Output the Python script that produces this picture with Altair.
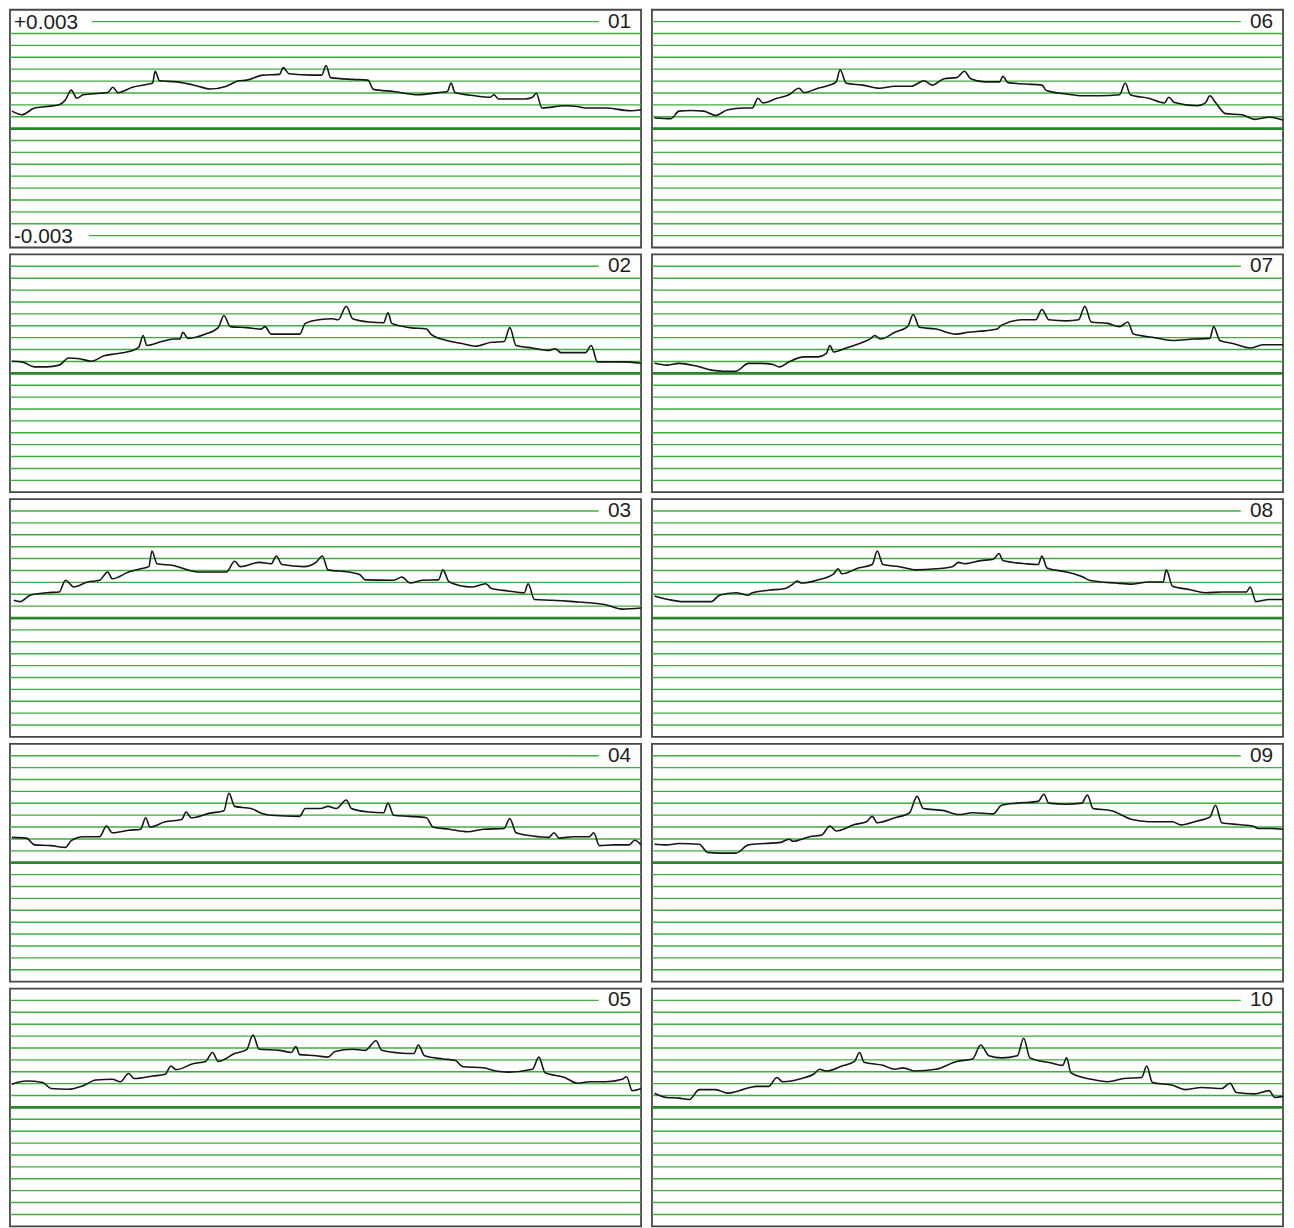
import altair as alt
import pandas as pd

# ---------------- data (in units of 1e-3) ----------------
PANEL_IDS = ["01", "02", "03", "04", "05", "06", "07", "08", "09", "10"]

X_01 = [0.3,1.9,3.9,5.8,7.8,8.8,9.7,10.6,11.6,14.2,15.5,16.3,17.1,19.4,22.0,22.6,23.0,23.7,26.5,29.8,31.7,34.3,36.2,37.5,40.1,42.7,43.3,44.2,47.9,49.4,50.1,50.8,54.3,56.7,57.6,60.8,64.7,67.9,69.3,69.9,70.5,73.7,76.1,76.7,77.4,81.5,82.8,83.4,84.3,88.0,89.9,91.2,94.4,98.3,100]
V_01 = [0.49,0.39,0.58,0.62,0.67,0.81,1.08,0.85,0.95,0.99,1.01,1.16,1.01,1.16,1.25,1.28,1.61,1.34,1.31,1.19,1.11,1.19,1.34,1.36,1.50,1.52,1.71,1.54,1.50,1.50,1.77,1.43,1.38,1.36,1.10,1.04,0.95,1.01,1.04,1.28,1.01,0.92,0.88,0.95,0.83,0.83,0.88,0.99,0.58,0.64,0.62,0.58,0.58,0.50,0.53]

X_02 = [0.3,1.9,3.9,5.8,7.8,9.3,11.0,12.9,14.9,16.8,19.4,20.4,21.1,21.7,24.0,25.9,26.9,27.4,28.2,31.0,33.0,33.9,34.9,37.5,39.8,40.4,41.4,45.9,46.8,49.2,51.1,52.0,53.3,54.3,56.9,59.2,59.9,60.5,63.4,66.0,66.7,69.2,71.8,73.7,76.3,78.3,79.2,80.2,82.8,85.4,86.4,87.3,91.2,92.1,93.1,97.0,100]
V_02 = [0.34,0.32,0.18,0.18,0.23,0.43,0.41,0.34,0.49,0.55,0.64,0.73,1.06,0.78,0.89,0.96,0.96,1.15,0.98,1.10,1.28,1.62,1.31,1.28,1.24,1.31,1.10,1.10,1.40,1.51,1.53,1.50,1.88,1.53,1.44,1.42,1.70,1.40,1.28,1.24,1.10,0.92,0.83,0.76,0.87,0.89,1.28,0.78,0.71,0.64,0.69,0.58,0.58,0.78,0.32,0.32,0.28]

X_03 = [0.6,1.6,3.2,5.8,7.8,8.8,10.1,12.3,14.2,15.5,16.2,18.8,20.7,22.0,22.5,23.3,25.9,28.5,29.8,34.3,35.6,36.5,39.5,41.4,42.2,43.1,46.6,48.5,49.5,50.4,53.7,55.4,56.3,60.8,62.1,63.4,65.3,67.9,68.6,69.6,73.1,75.4,76.3,78.9,81.5,82.1,83.1,86.0,89.3,91.8,94.4,97.0,100]
V_03 = [0.50,0.46,0.64,0.71,0.73,1.06,0.87,1.01,1.06,1.29,1.10,1.29,1.38,1.44,1.88,1.52,1.47,1.33,1.29,1.29,1.59,1.44,1.56,1.52,1.74,1.50,1.44,1.56,1.74,1.35,1.29,1.22,1.07,1.06,1.15,0.98,1.06,1.07,1.35,1.01,0.87,0.96,0.83,0.76,0.71,0.96,0.52,0.50,0.46,0.43,0.37,0.25,0.28]

X_04 = [0.3,2.6,3.9,6.5,8.8,9.7,11.6,14.2,15.3,16.2,18.8,20.7,21.5,22.2,24.6,27.2,27.9,28.7,31.7,33.9,34.7,35.6,38.2,40.1,41.4,45.9,46.8,49.2,50.4,51.7,53.3,54.1,56.9,59.2,59.9,60.8,63.4,66.0,67.0,69.6,72.5,75.0,78.3,79.2,80.2,82.8,85.4,86.2,87.0,89.3,91.8,92.5,93.4,95.7,98.1,99.0,100]
V_04 = [0.71,0.69,0.50,0.48,0.43,0.62,0.73,0.73,1.03,0.84,0.91,0.94,1.26,1.00,1.15,1.21,1.42,1.26,1.39,1.46,1.95,1.58,1.52,1.37,1.33,1.30,1.52,1.52,1.58,1.52,1.76,1.52,1.42,1.40,1.67,1.33,1.30,1.26,1.00,0.94,0.87,0.94,0.96,1.24,0.84,0.75,0.71,0.84,0.69,0.73,0.73,0.84,0.48,0.50,0.50,0.63,0.50]

X_05 = [0.3,2.6,5.2,6.5,9.1,11.6,13.6,16.2,17.5,18.8,19.7,22.6,24.6,25.5,26.3,29.1,31.0,32.1,33.0,35.6,37.5,38.5,39.5,42.7,44.6,45.3,45.9,48.5,50.4,51.5,54.3,56.3,58.0,58.9,62.1,64.0,64.7,65.7,68.6,70.5,71.8,75.0,77.0,79.0,82.8,83.8,84.8,87.9,89.9,91.8,94.4,97.0,97.7,98.6,100]
V_05 = [0.65,0.74,0.70,0.53,0.51,0.61,0.77,0.79,0.72,0.95,0.81,0.88,0.93,1.16,1.06,1.23,1.29,1.54,1.29,1.51,1.62,2.03,1.63,1.60,1.54,1.71,1.48,1.45,1.41,1.57,1.63,1.60,1.87,1.60,1.52,1.51,1.75,1.45,1.36,1.32,1.14,1.11,1.02,0.99,1.07,1.41,0.97,0.84,0.68,0.72,0.72,0.79,0.86,0.47,0.53]

X_06 = [0.4,3.0,4.3,6.2,8.2,10.1,12.0,14.6,15.9,16.8,17.6,19.8,21.7,23.3,24.1,26.3,28.2,29.2,29.8,30.8,33.4,36.0,38.5,41.1,43.1,44.4,46.3,48.3,49.5,50.5,52.8,55.1,55.6,56.4,59.3,61.8,62.5,65.7,68.3,70.9,74.1,75.0,75.8,78.7,81.2,81.9,82.8,86.4,87.7,88.4,89.3,90.9,93.5,95.5,97.8,100]
V_06 = [0.30,0.28,0.49,0.51,0.49,0.37,0.53,0.58,0.58,0.85,0.72,0.85,0.95,1.13,1.01,1.13,1.22,1.31,1.65,1.27,1.22,1.13,1.19,1.19,1.34,1.22,1.40,1.43,1.61,1.40,1.31,1.31,1.47,1.29,1.25,1.22,1.07,0.97,0.92,0.92,0.95,1.28,0.95,0.85,0.72,0.88,0.73,0.64,0.72,0.92,0.73,0.42,0.39,0.26,0.32,0.24]

X_07 = [0.4,2.3,4.3,6.9,9.4,11.4,13.3,15.3,17.2,19.1,20.2,21.7,24.1,26.3,27.6,28.2,28.8,30.8,33.4,34.7,35.3,36.2,38.5,40.5,41.4,42.4,45.0,48.2,50.1,52.7,54.7,55.4,58.6,60.8,61.8,62.9,65.7,67.6,68.6,69.6,72.2,74.1,75.4,76.3,79.3,82.5,85.8,88.4,89.0,90.0,92.2,94.8,96.8,100]
V_07 = [0.28,0.23,0.28,0.21,0.09,0.06,0.06,0.28,0.28,0.25,0.18,0.32,0.46,0.46,0.55,0.78,0.60,0.71,0.87,0.98,1.06,0.96,1.15,1.31,1.65,1.29,1.24,1.10,1.15,1.19,1.24,1.35,1.50,1.50,1.79,1.50,1.47,1.50,1.88,1.44,1.40,1.31,1.44,1.10,1.01,0.92,0.96,0.98,1.31,0.92,0.83,0.71,0.80,0.80]

X_08 = [0.4,2.6,4.9,7.5,9.4,10.7,13.3,15.3,15.9,18.5,21.1,22.4,23.0,23.7,26.3,28.8,29.5,30.1,32.7,34.9,35.7,36.6,39.2,41.8,45.0,47.6,48.6,49.5,52.1,54.1,55.0,55.6,59.3,61.2,61.8,62.6,65.7,68.3,69.3,73.5,76.1,78.7,81.0,81.5,82.5,85.1,87.7,90.3,94.2,94.8,95.7,97.8,100]
V_08 = [0.62,0.52,0.46,0.46,0.46,0.64,0.71,0.64,0.71,0.78,0.83,0.96,1.04,0.98,1.07,1.24,1.38,1.24,1.40,1.50,1.88,1.50,1.44,1.35,1.38,1.44,1.56,1.52,1.61,1.65,1.81,1.61,1.52,1.50,1.74,1.40,1.29,1.15,1.06,0.98,0.95,1.01,1.01,1.35,0.89,0.80,0.71,0.73,0.73,0.87,0.46,0.52,0.52]

X_09 = [0.4,2.3,4.3,7.5,8.8,10.7,13.3,15.3,17.9,20.4,21.7,22.4,25.0,26.9,28.2,29.2,32.1,34.0,34.9,35.7,38.5,40.8,42.0,43.0,46.3,48.6,50.8,54.1,55.4,57.9,61.2,62.1,62.9,65.7,68.1,69.0,69.9,72.8,76.1,78.7,82.5,83.8,86.4,88.4,89.3,90.3,92.9,95.2,96.1,98.1,100]
V_09 = [0.52,0.50,0.54,0.52,0.29,0.27,0.27,0.50,0.54,0.57,0.66,0.60,0.73,0.78,1.03,0.89,1.07,1.15,1.30,1.12,1.26,1.40,1.86,1.52,1.46,1.35,1.40,1.37,1.61,1.67,1.72,1.92,1.67,1.64,1.67,1.90,1.52,1.46,1.21,1.15,1.15,1.06,1.17,1.28,1.61,1.12,1.07,1.03,0.96,0.96,0.94]

X_10 = [0.4,2.3,4.3,5.9,7.5,10.1,12.0,13.8,16.6,18.5,19.8,20.7,23.7,25.6,26.6,27.6,30.1,32.1,32.9,33.6,36.6,38.5,39.8,41.7,45.0,48.3,50.8,52.1,53.4,55.4,57.9,58.9,59.9,63.1,65.1,65.7,66.4,69.6,72.2,74.8,77.6,78.4,79.3,82.5,84.5,87.1,90.3,91.6,92.6,95.5,97.8,98.7,100]
V_10 = [0.40,0.28,0.26,0.22,0.50,0.50,0.40,0.47,0.59,0.59,0.84,0.72,0.81,0.93,1.07,1.02,1.16,1.29,1.54,1.27,1.18,1.07,1.11,1.02,1.07,1.29,1.36,1.75,1.45,1.39,1.45,1.94,1.39,1.25,1.18,1.39,0.97,0.79,0.72,0.81,0.84,1.16,0.70,0.62,0.50,0.56,0.53,0.68,0.42,0.38,0.47,0.28,0.31]

SERIES = {
    "01": (X_01, V_01), "02": (X_02, V_02), "03": (X_03, V_03), "04": (X_04, V_04),
    "05": (X_05, V_05), "06": (X_06, V_06), "07": (X_07, V_07), "08": (X_08, V_08),
    "09": (X_09, V_09), "10": (X_10, V_10),
}

# horizontal reference lines (1e-3 units): nine steps each side of zero
GRID_LEVELS = [-3.0, -2.667, -2.333, -2.0, -1.667, -1.333, -1.0, -0.667, -0.333,
               0.333, 0.667, 1.0, 1.333, 1.667, 2.0, 2.333, 2.667]
TOP_LEVEL = 3.0
BOTTOM_LEVEL = -3.0
Y_LABELS = ["+0.003", "-0.003"]
Y_LIMIT = 3.333
X_DOMAIN = [0, 100]

# ---------------- styling ----------------
W, H = 637, 240
GRID_COLOR = "#3fae3f"
ZERO_COLOR = "#2a842a"
TRACE_COLOR = "#161616"
FONT = "Liberation Sans"

xs = alt.Scale(domain=X_DOMAIN, nice=False, zero=False)
ys = alt.Scale(domain=[-Y_LIMIT, Y_LIMIT], nice=False, zero=False)


def panel(pid):
    first = pid == "01"
    xv, vv = SERIES[pid]
    trace = pd.DataFrame({"x": xv, "y": vv})

    levels = [g for g in GRID_LEVELS if not (first and g == BOTTOM_LEVEL)]
    grid = alt.Chart(pd.DataFrame({"y": levels})).mark_rule(
        color=GRID_COLOR, strokeWidth=1.4
    ).encode(y=alt.Y("y:Q", scale=ys, axis=None))

    zero = alt.Chart(pd.DataFrame({"y": [0.0]})).mark_rule(
        color=ZERO_COLOR, strokeWidth=2.8
    ).encode(y=alt.Y("y:Q", scale=ys, axis=None))

    top_start = 13.0 if first else 0.0
    partial_rows = [{"x0": top_start, "x1": 93.3, "y": TOP_LEVEL}]
    if first:
        partial_rows.append({"x0": 12.5, "x1": 100.0, "y": BOTTOM_LEVEL})
    partial = alt.Chart(pd.DataFrame(partial_rows)).mark_rule(
        color=GRID_COLOR, strokeWidth=1.4
    ).encode(
        x=alt.X("x0:Q", scale=xs, axis=None),
        x2="x1:Q",
        y=alt.Y("y:Q", scale=ys, axis=None),
    )

    line = alt.Chart(trace).mark_line(
        color=TRACE_COLOR, strokeWidth=1.6, clip=True, interpolate="monotone"
    ).encode(
        x=alt.X("x:Q", scale=xs, axis=None),
        y=alt.Y("y:Q", scale=ys, axis=None),
    )

    tag = alt.Chart(pd.DataFrame({"x": [100.0], "y": [TOP_LEVEL], "t": [pid]})).mark_text(
        align="right", baseline="middle", dx=-10, dy=0, fontSize=21, font=FONT, color="#1e1e1e"
    ).encode(
        x=alt.X("x:Q", scale=xs, axis=None),
        y=alt.Y("y:Q", scale=ys, axis=None),
        text="t:N",
    )

    layers = [grid, partial, zero, line, tag]
    if first:
        lab = alt.Chart(pd.DataFrame({
            "x": [0.0, 0.0], "y": [TOP_LEVEL, BOTTOM_LEVEL], "t": Y_LABELS
        })).mark_text(
            align="left", baseline="middle", dx=4, dy=1, fontSize=21, font=FONT, color="#1e1e1e"
        ).encode(
            x=alt.X("x:Q", scale=xs, axis=None),
            y=alt.Y("y:Q", scale=ys, axis=None),
            text="t:N",
        )
        layers.append(lab)

    return alt.layer(*layers).properties(width=W, height=H)


rows = []
for i in range(5):
    rows.append(alt.hconcat(panel(PANEL_IDS[i]), panel(PANEL_IDS[i + 5]), spacing=5))

chart = alt.vconcat(*rows, spacing=5).properties(
    padding={"left": -1, "top": -5, "right": 0, "bottom": 0}, background="white"
).configure_view(
    stroke="#474747", strokeWidth=1.8
)

chart.save("out.html", embed_options={"renderer": "svg", "actions": False})
